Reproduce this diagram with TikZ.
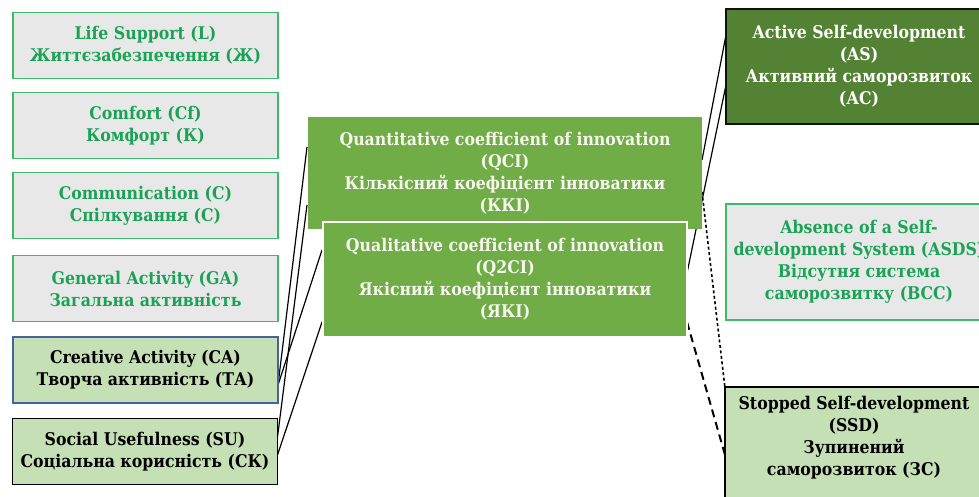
\documentclass[tikz,border=0pt]{standalone}
\usepackage{fontspec}
\setmainfont{DejaVu Serif Condensed}
\usetikzlibrary{calc}
\pgfdeclarelayer{bg}
\pgfsetlayers{bg,main}
\definecolor{lgray}{HTML}{E8E8E8}
\definecolor{boxgreen}{HTML}{3DBA6A}
\definecolor{tgreen}{HTML}{1AA356}
\definecolor{lgreen}{HTML}{C5E0B4}
\definecolor{midgreen}{HTML}{70AD47}
\definecolor{darkgreen}{HTML}{548235}
\definecolor{cablue}{HTML}{45649F}
\definecolor{offwhite}{HTML}{F6F6EE}
\begin{document}
\begin{tikzpicture}[x=1pt,y=-1pt,
  every node/.style={font=\bfseries\fontsize{17.5}{22}\selectfont, align=center, inner sep=0pt, outer sep=0pt},
  leftbox/.style={minimum width=265pt, minimum height=66pt},
  gbox/.style={leftbox, draw=boxgreen, line width=1.6pt, fill=lgray, text=tgreen},
  cabox/.style={leftbox, draw=cablue, line width=1.4pt, fill=lgreen, text=black},
  subox/.style={leftbox, draw=black, line width=1.8pt, fill=lgreen, text=black},
  coefbox/.style={fill=midgreen, text=offwhite},
  link/.style={draw=black, line width=1.2pt},
  dotlink/.style={draw=black, line width=1.6pt, dash pattern=on 3pt off 2.5pt},
  dashlink/.style={draw=black, line width=2pt, dash pattern=on 8pt off 5pt}]
\useasboundingbox (0,0) rectangle (979,497);

% left column
\node[gbox] (L)  at (145.5,45.5)  {Life Support (L)\\Життєзабезпечення (Ж)};
\node[gbox] (Cf) at (145.5,125.5) {Comfort (Cf)\\Комфорт (К)};
\node[gbox] (C)  at (145.5,205.5) {Communication (C)\\Спілкування (С)};
\node[gbox] (GA) at (145.5,288.5) {General Activity (GA)\\Загальна активність};
\node[cabox] (CA) at (145.5,370) {Creative Activity (CA)\\Творча активність (ТА)};
\node[subox] (SU) at (145,451.5) {Social Usefulness (SU)\\Соціальна корисність (СК)};

% centre
\node[coefbox, minimum width=394pt, minimum height=112pt] (QCI) at (505,173)
  {Quantitative coefficient of innovation\\(QCI)\\Кількісний коефіцієнт інноватики\\(ККІ)};
\node[coefbox, draw=white, line width=2pt, minimum width=364pt, minimum height=115pt] (Q2CI) at (505,279.5)
  {Qualitative coefficient of innovation\\(Q2CI)\\Якісний коефіцієнт інноватики\hspace{8pt}\\(ЯКІ)};

% right column
\node[draw=black!85!darkgreen, line width=1.6pt, fill=darkgreen, text=white, minimum width=266pt, minimum height=115pt] (AS) at (859,66.5)
  {Active Self-development\\(AS)\\Активний саморозвиток\\(АС)};
\node[draw=boxgreen, line width=1.6pt, fill=lgray, text=tgreen, minimum width=266pt, minimum height=116pt] (ASDS) at (859,262)
  {Absence of a Self-\\development System (ASDS)\\Відсутня система\\саморозвитку (ВСС)};
\node[draw=black, line width=1.8pt, fill=lgreen, minimum width=266pt, minimum height=124pt] (SSD) at (858,449) {};
\node[text=black] (SSDt) at (854,438)
  {Stopped Self-development\\(SSD)\\Зупинений\\саморозвиток (ЗС)};

% connectors (behind boxes)
\begin{pgfonlayer}{bg}
\draw[link] ($(QCI.north west)+(-1,30)$) -- ($(CA.east)+(0,15)$);
\draw[link] ($(QCI.north west)+(-1,88)$) -- ($(SU.east)+(0,-14.5)$);
\draw[link] ($(Q2CI.north west)+(-1,28)$) -- ($(CA.east)+(0,15)$);
\draw[link] ($(Q2CI.north west)+(-1,100)$) -- ($(SU.east)+(0,3.5)$);
\draw[link] ($(QCI.north east)+(0,43)$) -- ($(AS.north west)+(0,26)$);
\draw[link] ($(Q2CI.north east)+(0,51)$) -- ($(AS.north west)+(0,76)$);
\draw[dotlink] ($(QCI.north east)+(0,75)$) -- ($(SSD.north west)+(0,1)$);
\draw[dashlink] ($(Q2CI.north east)+(0,100)$) -- ($(SSD.north west)+(0,68)$);
\end{pgfonlayer}
\end{tikzpicture}
\end{document}
